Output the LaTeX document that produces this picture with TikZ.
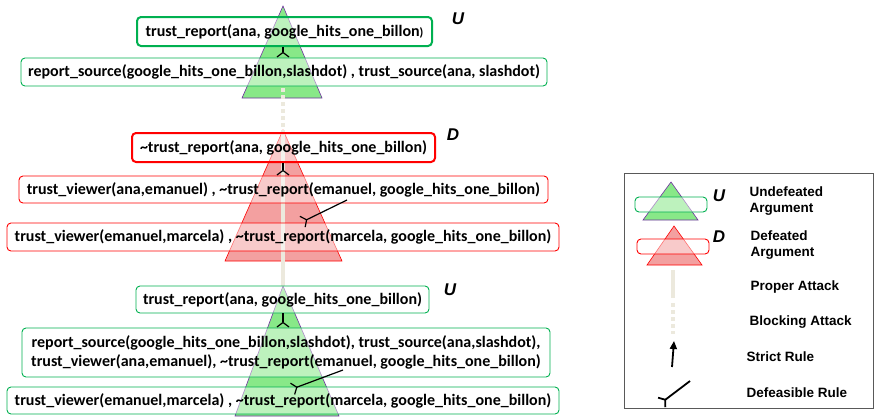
\documentclass[tikz,border=0pt]{standalone}
\usepackage{fontspec}
\setmainfont{Carlito}
\newfontfamily\legfont{Liberation Sans}
\usetikzlibrary{arrows.meta}

\definecolor{ugreen}{RGB}{0,176,80}
\definecolor{ufill}{RGB}{136,232,136}
\definecolor{upurple}{RGB}{112,48,160}
\definecolor{dred}{RGB}{255,0,0}
\definecolor{dfill}{RGB}{243,160,160}
\definecolor{attackc}{RGB}{236,233,221}

\begin{document}
\begin{tikzpicture}[x=1pt, y=-1pt,
		argbox/.style={rounded corners=4pt, fill=white, fill opacity=0.45, text opacity=1, line width=0.9pt, inner sep=0pt, align=center, font=\bfseries\fontsize{16}{18.5}\selectfont},
		ubox/.style={argbox, draw=ugreen},
		dbox/.style={argbox, draw=dred},
		conc/.style={line width=2pt},
		utri/.style={fill=ufill, draw=upurple, line width=0.6pt},
		dtri/.style={fill=dfill, draw=dred, line width=0.6pt},
		proper/.style={attackc, line width=4pt},
		blocking/.style={attackc, line width=4pt, dash pattern=on 4pt off 3pt},
		defrule/.style={line width=1.2pt, -{Straight Barb[reversed, length=4.5pt, width=12pt]}},
		strictrule/.style={line width=1.8pt, -{Triangle[length=8pt, width=7pt]}},
		status/.style={font=\legfont\bfseries\itshape\fontsize{17}{19}\selectfont},
		legtxt/.style={anchor=west, align=left, font=\legfont\bfseries\fontsize{13.5}{16}\selectfont}]

		\useasboundingbox (0,0) rectangle (878,416);

		\coordinate (ut) at (283,6);
		\coordinate (dt) at (283,130);
		\coordinate (bt) at (283,286);

		\filldraw [utri] (ut) -- (322,98) -- (242,98) -- cycle;
		\filldraw [dtri] (dt) -- (342,261) -- (225,261) -- cycle;
		\filldraw [utri] (bt) -- (339,416) -- (235,416) -- cycle;

		\coordinate (blk) at (283,88);
		\draw [blocking] (blk) -- (dt);
		\draw [proper] (dt) -- (bt);

		\node [ubox, conc, minimum width=295pt, minimum height=29pt] (ua1) at (284.5,31.5) {trust\_report(ana, google\_hits\_one\_billon{\fontsize{12}{14}\selectfont )}};
		\node [ubox, minimum width=526pt, minimum height=28pt] (ua2) at (284,72) {report\_source(google\_hits\_one\_billon,slashdot) , trust\_source(ana, slashdot)};
		\node [status] (um1) at (458,19) {U};

		\node [dbox, conc, minimum width=303pt, minimum height=29pt] (da1) at (283.5,147.5) {\textasciitilde trust\_report(ana, google\_hits\_one\_billon)};
		\node [dbox, minimum width=529pt, minimum height=27pt] (da2) at (283.5,189.5) {trust\_viewer(ana,emanuel) , \textasciitilde trust\_report(emanuel, google\_hits\_one\_billon)};
		\node [dbox, minimum width=552pt, minimum height=28pt] (da3) at (283,237) {trust\_viewer(emanuel,marcela) , \textasciitilde trust\_report(marcela, google\_hits\_one\_billon)};
		\node [status] (dm1) at (453,135) {D};

		\node [ubox, minimum width=293pt, minimum height=27pt] (ub1) at (282.5,299.5) {trust\_report(ana, google\_hits\_one\_billon)};
		\node [ubox, minimum width=528pt, minimum height=49pt] (ub2) at (286,352.5) {report\_source(google\_hits\_one\_billon,slashdot), trust\_source(ana,slashdot),\\ trust\_viewer(ana,emanuel), \textasciitilde trust\_report(emanuel, google\_hits\_one\_billon)};
		\node [ubox, minimum width=552pt, minimum height=27pt] (ub3) at (283,400.5) {trust\_viewer(emanuel,marcela) , \textasciitilde trust\_report(marcela, google\_hits\_one\_billon)};
		\node [status] (um2) at (450,290) {U};

		\draw [defrule] (ua1.south -| ut) -- (ua2.north -| ut);
		\draw [defrule] (da1.south -| dt) -- (da2.north -| dt);
		\coordinate (dr2a) at (347,200);
		\coordinate (dr2b) at (302,222);
		\draw [defrule] (dr2a) -- (dr2b);
		\draw [defrule] (ub1.south -| bt) -- (ub2.north -| bt);
		\coordinate (br2a) at (343,370);
		\coordinate (br2b) at (292,389);
		\draw [defrule] (br2a) -- (br2b);

		% legend
		\draw [gray!70!black, line width=0.7pt] (624,173) rectangle (873,408);

		\filldraw [utri] (671,182) -- (698,220) -- (643,220) -- cycle;
		\node [ubox, minimum width=72pt, minimum height=15pt] (lu) at (671,204.5) {};
		\node [status] (lum) at (719,196) {U};
		\node [legtxt] (lut) at (746,201) {Undefeated\\Argument};

		\filldraw [dtri] (674,226) -- (702,265) -- (647,265) -- cycle;
		\node [dbox, minimum width=72pt, minimum height=15pt] (ld) at (673,246.5) {};
		\node [status] (ldm) at (719,237) {D};
		\node [legtxt] (ldt) at (747,245) {Defeated\\Argument};

		\coordinate (lpa) at (673,270);
		\coordinate (lpb) at (673,298);
		\draw [proper] (lpa) -- (lpb);
		\node [legtxt] (lpt) at (747,287) {Proper Attack};

		\coordinate (lba) at (673,303);
		\coordinate (lbb) at (673,334);
		\draw [blocking] (lba) -- (lbb);
		\node [legtxt] (lbt) at (746,322) {Blocking Attack};

		\coordinate (lsa) at (672,367);
		\coordinate (lsb) at (674,341);
		\draw [strictrule] (lsa) -- (lsb);
		\node [legtxt] (lst) at (743,357) {Strict Rule};

		\coordinate (lda) at (690,381);
		\coordinate (ldb) at (661,403);
		\draw [defrule, line width=1.8pt] (lda) -- (ldb);
		\node [legtxt] (ldr) at (743,393) {Defeasible Rule};

	\end{tikzpicture}
\end{document}
